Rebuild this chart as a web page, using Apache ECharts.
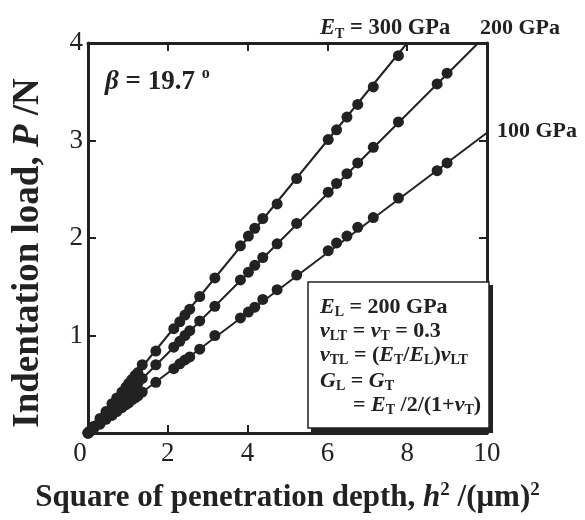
<!DOCTYPE html>
<html>
<head>
<meta charset="utf-8">
<script src="https://cdn.jsdelivr.net/npm/echarts@6/dist/echarts.min.js"></script>
<style>
html,body{margin:0;padding:0;background:#fff;}
#chart{width:585px;height:520px;}
</style>
</head>
<body>
<div id="chart"></div>
<script>
// ---- data ----
const hSq300 = [0, 0.05, 0.15, 0.30, 0.45, 0.60, 0.72, 0.85, 0.95, 1.02, 1.10, 1.18, 1.25, 1.36, 1.70, 2.15, 2.30, 2.43, 2.55, 2.80, 3.18, 3.82, 4.02, 4.18, 4.38, 4.74, 5.23, 6.02, 6.23, 6.49, 6.76, 7.15, 7.78];
const load300 = [0, 0.02, 0.07, 0.15, 0.22, 0.30, 0.36, 0.42, 0.47, 0.51, 0.55, 0.59, 0.62, 0.70, 0.84, 1.07, 1.14, 1.21, 1.27, 1.40, 1.59, 1.92, 2.02, 2.10, 2.20, 2.35, 2.61, 3.01, 3.11, 3.24, 3.37, 3.55, 3.87];
const hSq200 = [0, 0.05, 0.15, 0.30, 0.45, 0.60, 0.72, 0.85, 0.95, 1.02, 1.10, 1.18, 1.25, 1.36, 1.70, 2.15, 2.30, 2.43, 2.55, 2.80, 3.18, 3.82, 4.02, 4.18, 4.38, 4.74, 5.23, 6.02, 6.23, 6.49, 6.76, 7.15, 7.78, 8.75, 9.00];
const load200 = [0, 0.02, 0.06, 0.12, 0.18, 0.25, 0.30, 0.35, 0.39, 0.42, 0.45, 0.48, 0.51, 0.56, 0.70, 0.88, 0.94, 1.00, 1.05, 1.15, 1.30, 1.57, 1.65, 1.72, 1.80, 1.94, 2.15, 2.47, 2.56, 2.66, 2.77, 2.93, 3.19, 3.58, 3.69];
const hSq100 = [0, 0.05, 0.15, 0.30, 0.45, 0.60, 0.72, 0.85, 0.95, 1.02, 1.10, 1.18, 1.25, 1.36, 1.70, 2.15, 2.30, 2.43, 2.55, 2.80, 3.18, 3.82, 4.02, 4.18, 4.38, 4.74, 5.23, 6.02, 6.23, 6.49, 6.76, 7.15, 7.78, 8.75, 9.00];
const load100 = [0, 0.015, 0.05, 0.09, 0.14, 0.18, 0.22, 0.26, 0.29, 0.31, 0.34, 0.36, 0.38, 0.42, 0.52, 0.66, 0.71, 0.75, 0.78, 0.86, 1.00, 1.18, 1.24, 1.29, 1.37, 1.47, 1.62, 1.87, 1.95, 2.02, 2.11, 2.21, 2.41, 2.69, 2.77];
// fitted straight lines (start, end) as drawn in the reference
const fit300 = [[0, 0], [8.0, 4.0]];
const fit200 = [[0, 0], [9.78, 4.0]];
const fit100 = [[0, 0], [10.0, 3.08]];
const xRange = [0, 10, 2];
const yRange = [0, 4, 1];

const FF = 'Liberation Serif';
const INK = '#222';
const pairs = (xs, ys) => xs.map((x, i) => [x, ys[i]]);

const chart = echarts.init(document.getElementById('chart'), null, {renderer: 'canvas'});

const axisLineStyle = () => ({show: true, onZero: false, lineStyle: {color: INK, width: 3}});
const tickIn = () => ({show: true, inside: true, length: 8, lineStyle: {color: INK, width: 2}});

const rt = (extra) => Object.assign({fontFamily: FF, fill: INK, color: INK}, extra);

const boxRich = {
  n: rt({fontSize: 22, fontWeight: 'bold', lineHeight: 24, verticalAlign: 'middle'}),
  i: rt({fontSize: 22, fontWeight: 'bold', fontStyle: 'italic', lineHeight: 24, verticalAlign: 'middle'}),
  s: rt({fontSize: 14, fontWeight: 'bold', lineHeight: 14, verticalAlign: 'bottom'})
};

const option = {
  animation: false,
  backgroundColor: '#fff',
  grid: {left: 88, right: 98, top: 43, bottom: 78, containLabel: false},
  xAxis: [
    {
      type: 'value', position: 'bottom', min: xRange[0], max: xRange[1], interval: xRange[2],
      axisLine: axisLineStyle(), axisTick: tickIn(), splitLine: {show: false},
      axisLabel: {
        fontFamily: FF, fontSize: 27, color: INK, margin: 7,
        formatter: v => v === 0 ? '{z|0}' : String(v),
        rich: {z: {fontFamily: FF, fontSize: 27, color: INK, padding: [0, 16, 0, 0]}}
      },
      name: 'Square of penetration depth, {i|h}{p|2} /(μm){p|2}',
      nameLocation: 'middle', nameGap: 48,
      nameTextStyle: {
        fontFamily: FF, fontSize: 31, fontWeight: 'bold', color: INK, lineHeight: 34,
        rich: {
          i: {fontFamily: FF, fontSize: 31, fontWeight: 'bold', fontStyle: 'italic', color: INK, lineHeight: 34},
          p: {fontFamily: FF, fontSize: 19, fontWeight: 'bold', color: INK, lineHeight: 20, verticalAlign: 'top'}
        }
      }
    },
    {
      type: 'value', position: 'top', min: xRange[0], max: xRange[1], interval: xRange[2],
      axisLine: axisLineStyle(), axisTick: tickIn(), splitLine: {show: false}, axisLabel: {show: false}
    }
  ],
  yAxis: [
    {
      type: 'value', position: 'left', min: yRange[0], max: yRange[1], interval: yRange[2],
      axisLine: axisLineStyle(), axisTick: tickIn(), splitLine: {show: false},
      axisLabel: {fontFamily: FF, fontSize: 27, color: INK, margin: 5, formatter: v => v === 0 ? '' : String(v)},
      name: 'Indentation load, {i|P} /N',
      nameLocation: 'middle', nameGap: 41,
      nameTextStyle: {
        fontFamily: FF, fontSize: 37, fontWeight: 'bold', color: INK, padding: [0, 30, 0, 0],
        rich: {i: {fontFamily: FF, fontSize: 37, fontWeight: 'bold', fontStyle: 'italic', color: INK}}
      }
    },
    {
      type: 'value', position: 'right', min: yRange[0], max: yRange[1], interval: yRange[2],
      axisLine: axisLineStyle(), axisTick: tickIn(), splitLine: {show: false}, axisLabel: {show: false}
    }
  ],
  series: [
    {type: 'line', name: 'fit300', data: fit300, symbol: 'none', lineStyle: {color: INK, width: 2}, z: 2},
    {type: 'line', name: 'fit200', data: fit200, symbol: 'none', lineStyle: {color: INK, width: 2}, z: 2},
    {type: 'line', name: 'fit100', data: fit100, symbol: 'none', lineStyle: {color: INK, width: 2}, z: 2},
    {type: 'scatter', name: 'E_T = 300 GPa', data: pairs(hSq300, load300), symbolSize: 11, itemStyle: {color: INK, opacity: 1}, z: 3},
    {type: 'scatter', name: 'E_T = 200 GPa', data: pairs(hSq200, load200), symbolSize: 11, itemStyle: {color: INK, opacity: 1}, z: 3},
    {type: 'scatter', name: 'E_T = 100 GPa', data: pairs(hSq100, load100), symbolSize: 11, itemStyle: {color: INK, opacity: 1}, z: 3}
  ],
  graphic: [
    {type: 'text', x: 320, y: 15, z: 100, style: {
      text: '{i|E}{s|T}{n| = 300 GPa}', fill: INK,
      rich: {
        n: rt({fontSize: 22.5, fontWeight: 'bold', lineHeight: 26, verticalAlign: 'middle'}),
        i: rt({fontSize: 22.5, fontWeight: 'bold', fontStyle: 'italic', lineHeight: 26, verticalAlign: 'middle'}),
        s: rt({fontSize: 14, fontWeight: 'bold', lineHeight: 15, verticalAlign: 'bottom'})
      }}},
    {type: 'text', x: 480, y: 15, z: 100, style: {
      text: '{n|200 GPa}', fill: INK,
      rich: {n: rt({fontSize: 22, fontWeight: 'bold', lineHeight: 26, verticalAlign: 'middle'})}}},
    {type: 'text', x: 497, y: 118, z: 100, style: {
      text: '{n|100 GPa}', fill: INK,
      rich: {n: rt({fontSize: 22, fontWeight: 'bold', lineHeight: 26, verticalAlign: 'middle'})}}},
    {type: 'text', x: 105, y: 66, z: 100, style: {
      text: '{i|β}{n| = 19.7 }{o|o}', fill: INK,
      rich: {
        n: rt({fontSize: 27, fontWeight: 'bold', lineHeight: 32, verticalAlign: 'middle'}),
        i: rt({fontSize: 27, fontWeight: 'bold', fontStyle: 'italic', lineHeight: 32, verticalAlign: 'middle'}),
        o: rt({fontSize: 16, fontWeight: 'bold', lineHeight: 18, verticalAlign: 'top'})
      }}},
    {type: 'rect', z: 100, shape: {x: 311, y: 285, width: 182, height: 148}, style: {fill: INK}},
    {type: 'rect', z: 101, shape: {x: 308, y: 282, width: 181, height: 146}, style: {fill: '#fff', stroke: INK, lineWidth: 1.5}},
    {type: 'text', x: 320, y: 295, z: 102, style: {
      text: '{i|E}{s|L}{n| = 200 GPa}\n{i|ν}{s|LT}{n| = }{i|ν}{s|T}{n| = 0.3}\n{i|ν}{s|TL}{n| = (}{i|E}{s|T}{n|/}{i|E}{s|L}{n|)}{i|ν}{s|LT}',
      fill: INK, rich: boxRich}},
    {type: 'text', x: 320, y: 369, z: 102, style: {
      text: '{i|G}{s|L}{n| = }{i|G}{s|T}\n{n|      = }{i|E}{s|T}{n| /2/(1+}{i|ν}{s|T}{n|)}',
      fill: INK, rich: boxRich}}
  ]
};
chart.setOption(option);
</script>
</body>
</html>
